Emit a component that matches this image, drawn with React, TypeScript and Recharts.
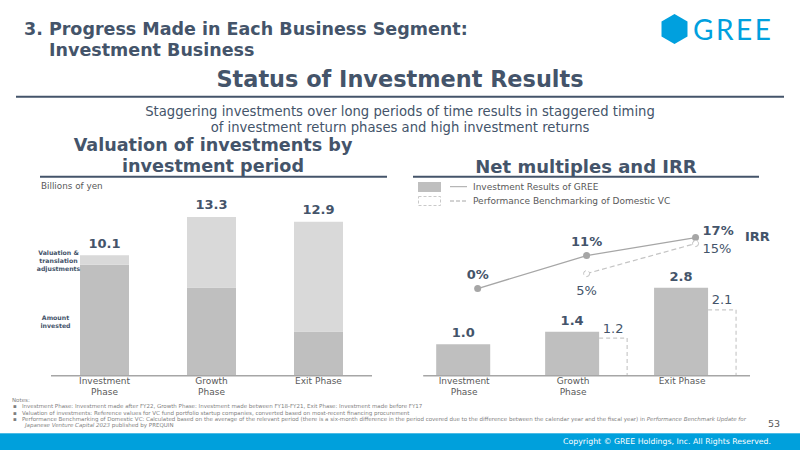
import React from "react";
import {
  BarChart,
  Bar,
  ComposedChart,
  Line,
  XAxis,
  YAxis,
  LabelList,
} from "recharts";

const phases = ["Investment\nPhase", "Growth\nPhase", "Exit Phase"];
const amountInvested = [9.3, 7.4, 3.7];
const valuationAdjustments = [0.8, 5.9, 9.2];
const valuationTotals = [10.1, 13.3, 12.9];

const greeMultiples = [1.0, 1.4, 2.8];
const benchmarkMultiples = [null, 1.2, 2.1];
const greeIrr = [0, 11, 17];
const benchmarkIrr = [null, 5, 15];

const valuationData = phases.map((phase, i) => ({
  phase,
  invested: amountInvested[i],
  adjustments: valuationAdjustments[i],
  total: valuationTotals[i],
}));

const returnsData = phases.map((phase, i) => ({
  phase,
  gree: greeMultiples[i],
  bench: benchmarkMultiples[i],
  greeIrr: greeIrr[i],
  benchIrr: benchmarkIrr[i],
}));

const FONT = '"DejaVu Sans", Verdana, sans-serif';
const NAVY = "#44546A";
const GREY_TEXT = "#595959";
const NOTE_GREY = "#7F7F7F";

type TProps = {
  x: number;
  y: number;
  size: number;
  anchor?: "start" | "middle" | "end";
  bold?: boolean;
  color?: string;
  children: React.ReactNode;
};

function T({ x, y, size, anchor = "start", bold, color = NAVY, children }: TProps) {
  const tx = anchor === "middle" ? "-50%" : anchor === "end" ? "-100%" : "0";
  return (
    <div
      style={{
        position: "absolute",
        left: x,
        top: y,
        transform: `translate(${tx}, -50%)`,
        fontSize: size,
        lineHeight: 1,
        fontWeight: bold ? 700 : 400,
        color,
        whiteSpace: "nowrap",
        fontFamily: FONT,
      }}
    >
      {children}
    </div>
  );
}

// two-line category label; `shift` moves it under the first bar of a group
function PhaseTick(props: any) {
  const { x, y, payload, shift = 0 } = props;
  const lines = String(payload.value).split("\n");
  const cx = x + shift;
  return (
    <text x={cx} y={y} textAnchor="middle" fill={GREY_TEXT} fontSize={9} fontFamily={FONT}>
      {lines.map((l, i) => (
        <tspan key={i} x={cx} dy={i === 0 ? 8.6 : 11}>
          {l}
        </tspan>
      ))}
    </text>
  );
}

// benchmark multiple: open dashed box (top + right edge)
function DashedBar(props: any) {
  const { x, y, width, height } = props;
  if (!height || height <= 0) return null;
  return (
    <path
      d={`M${x},${y} L${x + width},${y} L${x + width},${y + height}`}
      fill="none"
      stroke="#C9C9C9"
      strokeWidth={1.2}
      strokeDasharray="4 3"
    />
  );
}

function pointOf(props: any) {
  const vb = props.viewBox || {};
  return { x: props.x ?? vb.x, y: props.y ?? vb.y };
}

function GreeIrrLabel(props: any) {
  const { value, index } = props;
  const { x, y } = pointOf(props);
  const last = index === greeIrr.length - 1;
  return (
    <text
      x={last ? x + 7 : x}
      y={last ? y - 2.5 : y - 10}
      textAnchor={last ? "start" : "middle"}
      fill={NAVY}
      fontWeight={700}
      fontSize={13}
      fontFamily={FONT}
    >
      {value}%
    </text>
  );
}

function BenchIrrLabel(props: any) {
  const { value, index } = props;
  if (value == null) return null;
  const { x, y } = pointOf(props);
  const last = index === benchmarkIrr.length - 1;
  return (
    <text
      x={last ? x + 7 : x}
      y={last ? y + 9.7 : y + 21}
      textAnchor={last ? "start" : "middle"}
      fill={NAVY}
      fontSize={13}
      fontFamily={FONT}
    >
      {value}%
    </text>
  );
}

function ValuationChart() {
  return (
    <div style={{ position: "absolute", left: 0, top: 180 }}>
      <BarChart
        width={400}
        height={220}
        data={valuationData}
        margin={{ top: 16.7, right: 28, left: 51, bottom: 0 }}
      >
        <XAxis
          dataKey="phase"
          height={24.3}
          tick={<PhaseTick />}
          tickLine={false}
          tickSize={0}
          tickMargin={0}
          interval={0}
          axisLine={{ stroke: "#A6A6A6", strokeWidth: 1.5 }}
        />
        <YAxis hide domain={[0, 15]} />
        <Bar dataKey="invested" stackId="v" fill="#BFBFBF" barSize={49} isAnimationActive={false} />
        <Bar dataKey="adjustments" stackId="v" fill="#D9D9D9" barSize={49} isAnimationActive={false}>
          <LabelList
            dataKey="total"
            position="top"
            offset={7.5}
            fill={NAVY}
            fontSize={13}
            fontWeight={700}
            fontFamily={FONT}
          />
        </Bar>
      </BarChart>
    </div>
  );
}

function ReturnsChart() {
  return (
    <div style={{ position: "absolute", left: 400, top: 180 }}>
      <ComposedChart
        width={400}
        height={220}
        data={returnsData}
        barGap={0}
        margin={{ top: 20, right: 50, left: 23.2, bottom: 0 }}
      >
        <XAxis
          dataKey="phase"
          height={24.3}
          tick={<PhaseTick shift={-13.5} />}
          tickLine={false}
          tickSize={0}
          tickMargin={0}
          interval={0}
          axisLine={{ stroke: "#A6A6A6", strokeWidth: 1.5 }}
        />
        <YAxis yAxisId="mult" hide domain={[0, 5.6]} />
        <YAxis yAxisId="irr" hide domain={[-29, 29.5]} />
        <Bar yAxisId="mult" dataKey="gree" fill="#BFBFBF" barSize={54} isAnimationActive={false}>
          <LabelList
            dataKey="gree"
            position="top"
            offset={7}
            fill={NAVY}
            fontSize={13}
            fontWeight={700}
            fontFamily={FONT}
            formatter={(v: any) => Number(v).toFixed(1)}
          />
        </Bar>
        <Bar yAxisId="mult" dataKey="bench" barSize={28} shape={<DashedBar />} isAnimationActive={false}>
          <LabelList
            dataKey="bench"
            position="top"
            offset={5.5}
            fill={NAVY}
            fontSize={13}
            fontFamily={FONT}
            formatter={(v: any) => (v == null ? "" : Number(v).toFixed(1))}
          />
        </Bar>
        <Line
          yAxisId="irr"
          dataKey="greeIrr"
          stroke="#A6A6A6"
          strokeWidth={1.3}
          dot={{ r: 3.5, fill: "#A6A6A6", stroke: "#A6A6A6", strokeWidth: 0 }}
          isAnimationActive={false}
          label={<GreeIrrLabel />}
        />
        <Line
          yAxisId="irr"
          dataKey="benchIrr"
          stroke="#C4C4C4"
          strokeWidth={1.2}
          strokeDasharray="5 3"
          dot={{ r: 3, fill: "#FFFFFF", stroke: "#BFBFBF", strokeWidth: 1 }}
          isAnimationActive={false}
          label={<BenchIrrLabel />}
        />
      </ComposedChart>
    </div>
  );
}

export default function App() {
  const hexR = 15;
  const hcx = 674.5;
  const hcy = 29;
  const hex = [0, 1, 2, 3, 4, 5]
    .map((k) => {
      const a = (Math.PI / 3) * k - Math.PI / 2;
      return `${hcx + hexR * Math.cos(a)},${hcy + hexR * Math.sin(a)}`;
    })
    .join(" ");

  return (
    <div
      style={{
        position: "absolute",
        left: 0,
        top: 0,
        width: 800,
        height: 450,
        background: "#FFFFFF",
        overflow: "hidden",
        fontFamily: FONT,
      }}
    >
      <svg width={800} height={450} style={{ position: "absolute", left: 0, top: 0 }}>
        <polygon points={hex} fill="#00A0DE" />
        <text x={693} y={39.5} fill="#00A0DE" fontSize={28} letterSpacing={2.5} fontFamily="Lato, sans-serif">
          GREE
        </text>
        <line x1={16} y1={96.7} x2={784} y2={96.7} stroke={NAVY} strokeWidth={2} />
        <line x1={40} y1={176.7} x2={387} y2={176.7} stroke={NAVY} strokeWidth={2} />
        <line x1={413} y1={176.7} x2={759} y2={176.7} stroke={NAVY} strokeWidth={2} />
        {/* legend swatches */}
        <rect x={418} y={182} width={23} height={10} fill="#BFBFBF" />
        <line x1={450} y1={186.7} x2={467} y2={186.7} stroke="#A6A6A6" strokeWidth={1} />
        <rect x={418.5} y={196.5} width={22} height={9} fill="none" stroke="#C9C9C9" strokeDasharray="3 2" />
        <line x1={450} y1={201} x2={467} y2={201} stroke="#A6A6A6" strokeWidth={1} strokeDasharray="4 2" />
        <rect x={0} y={433.3} width={800} height={17} fill="#00A0DC" />
      </svg>

      <T x={24} y={30} size={17.5} bold>3. Progress Made in Each Business Segment:</T>
      <T x={49} y={51} size={17.5} bold>Investment Business</T>
      <T x={400} y={79} size={22.4} bold anchor="middle">Status of Investment Results</T>
      <T x={400} y={112} size={13.2} anchor="middle">
        Staggering investments over long periods of time results in staggered timing
      </T>
      <T x={400} y={128} size={13.2} anchor="middle">
        of investment return phases and high investment returns
      </T>
      <T x={213} y={146} size={17.6} bold anchor="middle">Valuation of investments by</T>
      <T x={213} y={167} size={17.6} bold anchor="middle">investment period</T>
      <T x={586} y={167} size={18} bold anchor="middle">Net multiples and IRR</T>
      <T x={41} y={185.5} size={8.8} color={GREY_TEXT}>Billions of yen</T>

      <T x={473} y={186.7} size={9} color={GREY_TEXT}>Investment Results of GREE</T>
      <T x={473} y={201} size={9} color={GREY_TEXT}>Performance Benchmarking of Domestic VC</T>

      <ValuationChart />
      <ReturnsChart />

      <T x={58.5} y={253} size={6.2} bold anchor="middle">Valuation &amp;</T>
      <T x={58.5} y={261} size={6.2} bold anchor="middle">translation</T>
      <T x={58.5} y={269} size={6.2} bold anchor="middle">adjustments</T>
      <T x={55.5} y={317.7} size={6.2} bold anchor="middle">Amount</T>
      <T x={55.5} y={325.7} size={6.2} bold anchor="middle">invested</T>

      <T x={745} y={236} size={13} bold>IRR</T>

      <T x={12} y={401} size={5.5} color={NOTE_GREY}>Notes:</T>
      <T x={13} y={407.4} size={5.5} color={NOTE_GREY}>
        ▪&nbsp;&nbsp;&nbsp;Investment Phase: Investment made after FY22, Growth Phase: Investment made between FY18-FY21, Exit Phase: Investment made before FY17
      </T>
      <T x={13} y={413.7} size={5.5} color={NOTE_GREY}>
        ▪&nbsp;&nbsp;&nbsp;Valuation of investments: Reference values for VC fund portfolio startup companies, converted based on most-recent financing procurement
      </T>
      <T x={13} y={420} size={5.5} color={NOTE_GREY}>
        ▪&nbsp;&nbsp;&nbsp;Performance Benchmarking of Domestic VC: Calculated based on the average of the relevant period (there is a six-month difference in the period covered due to the difference between the calendar year and the fiscal year) in{" "}
        <i>Performance Benchmark Update for</i>
      </T>
      <T x={25} y={426.3} size={5.5} color={NOTE_GREY}>
        <i>Japanese Venture Capital 2023</i> published by PREQUIN
      </T>
      <T x={780} y={424} size={9.5} anchor="end" color={GREY_TEXT}>53</T>
      <T x={771} y={441.5} size={7.8} anchor="end" color="#FFFFFF">
        Copyright © GREE Holdings, Inc. All Rights Reserved.
      </T>
    </div>
  );
}
